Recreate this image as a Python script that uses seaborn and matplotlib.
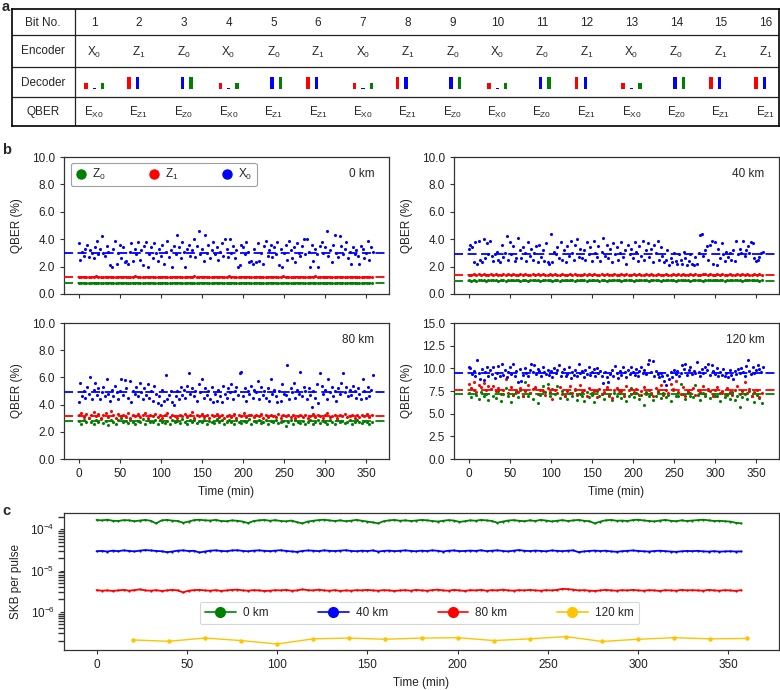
import numpy as np
import pandas as pd
import matplotlib
matplotlib.use("Agg")
import matplotlib.pyplot as plt
import seaborn as sns
from matplotlib.lines import Line2D

# ------------------------------------------------------------------ data
BITS = list(range(1, 17))
ENCODER = ["X0", "Z1", "Z0", "X0", "Z0", "Z1", "X0", "Z1",
           "Z0", "X0", "Z0", "Z1", "X0", "Z0", "Z1", "Z1"]
QBER_LABEL = ["X0", "Z1", "Z0", "X0", "Z1", "Z1", "X0", "Z1",
              "Z0", "X0", "Z0", "Z1", "X0", "Z0", "Z1", "Z1"]
# decoder detector clicks (relative heights): red / blue / green detectors
DEC_RED = [0.5, 1, 0.05, 0.5, 0.05, 1, 0.5, 1, 0.05, 0.5, 0.05, 1, 0.5, 0.05, 1, 1]
DEC_BLUE = [0.1, 1, 1, 0.1, 1, 1, 0.1, 1, 1, 0.1, 1, 1, 0.1, 1, 1, 1]
DEC_GREEN = [0.5, 0.05, 1, 0.5, 1, 0.05, 0.5, 0.05, 1, 0.5, 1, 0.05, 0.5, 1, 0.05, 0.05]

DISTANCES = ["0 km", "40 km", "80 km", "120 km"]

# QBER (%) for X0, sampled every 2 min from 0 to 358 min
X0_0KM = [3.7, 2.5, 3.1, 2.8, 3.3, 3.6, 2.7, 3.2, 3.0, 2.6,
          3.4, 3.9, 2.9, 3.3, 4.2, 3.0, 2.8, 3.5, 3.1, 2.1,
          2.0, 3.3, 3.9, 2.2, 3.0, 3.6, 2.6, 3.4, 2.3, 2.4,
          2.2, 3.1, 3.7, 2.4, 3.3, 2.9, 3.8, 2.5, 3.2, 2.1,
          3.5, 3.8, 2.0, 2.9, 3.4, 2.6, 3.7, 3.0, 2.4, 3.3,
          2.8, 3.6, 2.2, 3.1, 3.9, 2.7, 3.2, 2.0, 3.5, 2.9,
          4.3, 3.4, 2.6, 3.8, 3.1, 2.0, 3.3, 3.6, 2.8, 3.2,
          4.0, 2.7, 3.5, 4.6, 2.9, 3.3, 2.4, 4.3, 3.0, 3.6,
          2.6, 3.2, 3.8, 2.9, 3.4, 2.5, 3.1, 3.7, 2.8, 4.0,
          3.3, 2.7, 4.0, 3.0, 3.5, 2.6, 3.2, 2.0, 2.1, 3.6,
          3.4, 2.9, 3.8, 3.1, 2.3, 2.4, 2.2, 3.3, 2.3, 3.7,
          2.4, 3.0, 2.2, 3.5, 3.9, 2.8, 3.2, 3.6, 2.7, 3.4,
          2.9, 3.8, 2.1, 3.3, 2.0, 3.0, 3.6, 2.5, 3.9, 3.2,
          2.6, 3.4, 2.3, 3.7, 3.0, 2.8, 3.5, 4.0, 2.9, 4.0,
          3.1, 2.0, 3.6, 2.4, 3.3, 2.9, 1.95, 3.5, 3.8, 3.0,
          3.4, 4.6, 2.8, 3.2, 2.3, 3.6, 4.3, 3.0, 2.7, 4.2,
          3.5, 2.9, 3.3, 3.8, 2.6, 3.1, 2.2, 3.4, 2.9, 3.2,
          2.8, 2.2, 3.5, 3.3, 2.6, 3.0, 3.9, 2.5, 3.4, 3.1]
X0_40KM = [3.3, 3.6, 3.4, 2.3, 3.8, 2.2, 3.9, 2.5, 2.3, 4.0,
           2.6, 3.7, 2.9, 3.9, 2.8, 2.4, 2.9, 3.1, 2.5, 2.3,
           3.6, 2.7, 3.0, 4.2, 2.5, 3.8, 2.9, 3.5, 2.4, 2.6,
           4.1, 3.2, 2.6, 3.4, 3.0, 2.4, 3.8, 2.8, 3.3, 2.5,
           3.0, 3.5, 2.3, 3.6, 2.7, 3.2, 2.4, 3.7, 2.3, 2.2,
           4.4, 2.3, 3.1, 2.9, 3.4, 2.6, 3.8, 2.5, 3.2, 2.3,
           3.5, 2.8, 3.9, 3.0, 2.5, 3.6, 4.0, 2.7, 3.3, 2.6,
           3.2, 2.5, 3.8, 2.9, 3.4, 2.4, 3.9, 3.0, 2.7, 3.5,
           2.4, 3.1, 4.1, 2.8, 3.6, 2.6, 3.3, 2.3, 3.7, 2.9,
           3.4, 2.5, 3.0, 3.8, 2.7, 3.2, 2.2, 3.6, 2.9, 3.3,
           2.6, 3.8, 3.1, 2.4, 3.5, 2.8, 3.9, 2.5, 3.2, 3.7,
           2.7, 3.3, 2.3, 3.6, 3.0, 3.9, 2.5, 3.4, 2.8, 2.3,
           2.5, 3.2, 2.1, 2.6, 2.3, 3.0, 2.4, 2.2, 2.9, 2.5,
           2.2, 3.1, 2.6, 2.1, 2.4, 2.9, 2.2, 2.1, 2.7, 2.2,
           3.0, 4.3, 4.4, 2.8, 3.2, 3.5, 2.5, 3.6, 3.9, 2.2,
           3.8, 2.1, 3.3, 2.6, 3.7, 2.9, 2.4, 3.1, 2.7, 3.0,
           2.5, 3.2, 2.4, 3.9, 2.9, 3.3, 3.0, 3.9, 2.8, 3.2,
           3.5, 3.0, 3.8, 3.7, 2.6, 2.4, 2.5, 2.7, 3.0, 3.1]
X0_80KM = [4.2, 5.6, 4.6, 5.0, 4.5, 5.3, 4.8, 6.0, 4.4, 5.1,
           5.6, 4.7, 5.2, 4.4, 4.9, 5.3, 4.6, 5.9, 4.8, 4.3,
           5.1, 4.6, 5.4, 4.9, 4.4, 5.0, 5.9, 4.7, 5.8, 5.2,
           4.5, 5.7, 4.2, 5.0, 4.8, 5.3, 4.6, 5.6, 4.9, 4.4,
           5.2, 4.7, 5.5, 4.5, 5.0, 4.3, 5.4, 4.8, 4.1, 4.6,
           4.0, 5.1, 4.3, 6.2, 4.4, 4.7, 5.0, 4.2, 3.95, 4.6,
           5.0, 4.4, 5.3, 4.7, 5.1, 4.5, 5.4, 6.3, 4.8, 5.2,
           4.6, 5.0, 4.3, 5.5, 4.9, 5.9, 4.5, 5.2, 4.7, 5.0,
           4.4, 5.3, 4.2, 4.8, 4.3, 5.1, 4.6, 4.2, 5.4, 4.8,
           4.5, 5.2, 4.9, 5.5, 4.4, 5.0, 5.3, 4.7, 6.3, 6.4,
           4.6, 5.2, 4.3, 5.0, 4.8, 5.4, 4.5, 5.1, 4.9, 5.7,
           4.4, 5.3, 4.7, 5.0, 4.5, 5.2, 4.3, 5.9, 4.8, 5.1,
           4.6, 4.2, 5.0, 4.3, 5.5, 4.8, 4.7, 6.9, 4.4, 5.2,
           4.9, 5.6, 4.5, 5.1, 4.8, 6.4, 4.6, 5.3, 5.0, 4.4,
           5.2, 4.7, 3.8, 5.0, 4.5, 5.5, 4.1, 6.3, 5.4, 4.8,
           5.1, 4.4, 5.9, 4.9, 5.3, 4.6, 5.0, 4.3, 5.2, 4.8,
           5.6, 6.3, 4.9, 5.3, 4.6, 5.1, 4.7, 5.4, 5.0, 4.5,
           5.2, 4.8, 4.4, 5.9, 5.0, 4.5, 5.3, 4.6, 5.1, 6.2]
X0_120KM = [10.1, 10.0, 9.4, 9.7, 9.2, 10.9, 9.5, 8.8, 9.9, 8.7,
            9.6, 10.2, 9.1, 9.8, 9.4, 10.1, 8.9, 9.5, 10.3, 9.2,
            10.5, 9.3, 9.8, 9.0, 9.6, 10.2, 9.4, 10.5, 9.1, 9.7,
            8.5, 9.9, 8.6, 9.3, 10.0, 9.5, 9.2, 9.8, 10.5, 9.6,
            10.4, 9.4, 9.9, 9.7, 9.2, 10.1, 9.6, 9.4, 9.8, 9.3,
            9.7, 9.0, 10.0, 9.5, 9.8, 10.4, 9.2, 9.6, 9.9, 9.1,
            9.4, 10.1, 8.9, 9.6, 9.3, 9.8, 9.1, 10.5, 9.5, 9.7,
            9.0, 9.8, 9.4, 10.2, 9.3, 9.6, 9.9, 9.2, 10.0, 9.5,
            9.7, 9.1, 8.4, 9.6, 9.0, 8.5, 9.4, 9.8, 9.2, 10.3,
            9.5, 8.9, 9.7, 9.3, 10.1, 9.6, 9.0, 9.8, 9.4, 10.2,
            9.6, 9.3, 9.9, 9.1, 9.7, 10.2, 9.5, 9.8, 9.4, 10.5,
            10.9, 9.6, 10.8, 9.2, 9.7, 9.4, 9.0, 9.5, 9.2, 8.6,
            8.2, 9.3, 8.8, 9.6, 9.0, 9.8, 9.4, 9.7, 9.2, 9.5,
            10.4, 9.9, 10.5, 9.3, 9.8, 10.1, 9.4, 9.7, 9.5, 10.7,
            9.6, 9.2, 9.9, 9.5, 10.2, 9.8, 10.5, 9.3, 10.4, 9.7,
            9.4, 10.0, 9.1, 9.6, 9.3, 9.9, 9.2, 9.5, 9.0, 9.8,
            9.3, 8.8, 9.7, 9.4, 9.9, 9.5, 10.0, 9.6, 9.2, 10.3,
            10.9, 9.7, 9.4, 10.2, 9.5, 9.8, 10.4, 9.9, 9.6, 10.1]

# QBER (%) for Z0 / Z1, sampled every 3 min from 0 to 357 min
Z0_0KM = [0.81, 0.79, 0.80, 0.82, 0.78, 0.80, 0.81, 0.79, 0.83, 0.80,
          0.78, 0.81, 0.80, 0.79, 0.82, 0.80, 0.81, 0.78, 0.80, 0.79,
          0.81, 0.80, 0.82, 0.79, 0.80, 0.78, 0.81, 0.80, 0.79, 0.82,
          0.80, 0.81, 0.79, 0.80, 0.83, 0.80, 0.78, 0.81, 0.80, 0.79,
          0.82, 0.80, 0.79, 0.81, 0.80, 0.78, 0.80, 0.82, 0.79, 0.81,
          0.80, 0.79, 0.81, 0.80, 0.82, 0.78, 0.80, 0.81, 0.79, 0.80,
          0.81, 0.82, 0.80, 0.79, 0.81, 0.80, 0.78, 0.80, 0.82, 0.79,
          0.80, 0.81, 0.79, 0.80, 0.82, 0.80, 0.81, 0.79, 0.78, 0.80,
          0.81, 0.80, 0.82, 0.79, 0.80, 0.81, 0.83, 0.80, 0.79, 0.81,
          0.80, 0.78, 0.81, 0.80, 0.79, 0.82, 0.80, 0.81, 0.79, 0.80,
          0.82, 0.80, 0.79, 0.81, 0.80, 0.78, 0.81, 0.80, 0.82, 0.79,
          0.80, 0.81, 0.79, 0.80, 0.82, 0.80, 0.81, 0.79, 0.80, 0.81]
Z1_0KM = [1.26, 1.24, 1.27, 1.25, 1.23, 1.26, 1.25, 1.28, 1.24, 1.25,
          1.27, 1.25, 1.24, 1.26, 1.23, 1.25, 1.27, 1.24, 1.26, 1.25,
          1.24, 1.26, 1.25, 1.28, 1.25, 1.23, 1.26, 1.25, 1.27, 1.24,
          1.25, 1.27, 1.24, 1.26, 1.25, 1.23, 1.25, 1.27, 1.26, 1.24,
          1.26, 1.25, 1.23, 1.27, 1.25, 1.24, 1.26, 1.28, 1.25, 1.24,
          1.27, 1.25, 1.26, 1.24, 1.25, 1.27, 1.23, 1.26, 1.25, 1.24,
          1.26, 1.28, 1.25, 1.24, 1.26, 1.25, 1.27, 1.24, 1.25, 1.26,
          1.24, 1.25, 1.27, 1.26, 1.23, 1.25, 1.26, 1.24, 1.27, 1.25,
          1.26, 1.24, 1.25, 1.28, 1.25, 1.26, 1.24, 1.27, 1.25, 1.23,
          1.25, 1.27, 1.26, 1.24, 1.25, 1.26, 1.28, 1.25, 1.24, 1.26,
          1.27, 1.25, 1.24, 1.26, 1.25, 1.23, 1.26, 1.27, 1.25, 1.24,
          1.26, 1.25, 1.27, 1.24, 1.26, 1.25, 1.24, 1.27, 1.25, 1.26]
Z0_40KM = [1.00, 0.98, 1.02, 0.97, 1.01, 0.99, 1.03, 0.98, 1.00, 1.02,
           0.99, 1.01, 0.97, 1.00, 1.03, 0.98, 1.01, 1.00, 0.99, 1.04,
           1.02, 0.98, 1.00, 1.01, 0.97, 1.00, 1.02, 0.99, 1.01, 0.98,
           1.00, 1.03, 0.99, 1.01, 0.98, 1.00, 1.02, 0.97, 1.00, 1.01,
           0.99, 1.02, 1.00, 0.98, 1.01, 1.03, 0.99, 1.00, 0.98, 1.02,
           1.00, 0.99, 1.01, 0.97, 1.00, 1.02, 0.98, 1.01, 1.00, 0.99,
           1.02, 1.00, 0.98, 1.01, 0.99, 1.03, 1.00, 0.98, 1.01, 1.00,
           0.99, 1.01, 1.00, 0.97, 1.02, 0.99, 1.00, 1.01, 0.98, 1.00,
           1.01, 0.99, 1.02, 1.00, 0.98, 1.01, 1.00, 0.99, 1.03, 1.00,
           0.98, 1.01, 0.99, 1.02, 1.00, 0.98, 1.01, 1.04, 1.00, 0.99,
           1.02, 1.00, 0.99, 1.01, 0.98, 1.03, 1.00, 1.01, 0.99, 1.02,
           1.00, 0.98, 1.01, 1.03, 1.00, 0.99, 1.02, 1.00, 0.98, 1.01]
Z1_40KM = [1.42, 1.40, 1.44, 1.39, 1.43, 1.41, 1.45, 1.40, 1.42, 1.44,
           1.41, 1.43, 1.39, 1.42, 1.46, 1.40, 1.43, 1.41, 1.44, 1.40,
           1.42, 1.45, 1.41, 1.43, 1.39, 1.42, 1.44, 1.40, 1.43, 1.41,
           1.44, 1.42, 1.40, 1.43, 1.41, 1.45, 1.42, 1.39, 1.43, 1.41,
           1.40, 1.43, 1.42, 1.44, 1.41, 1.39, 1.42, 1.45, 1.40, 1.43,
           1.41, 1.44, 1.42, 1.40, 1.43, 1.41, 1.46, 1.42, 1.40, 1.43,
           1.42, 1.40, 1.44, 1.41, 1.43, 1.39, 1.42, 1.44, 1.41, 1.43,
           1.40, 1.42, 1.45, 1.41, 1.43, 1.40, 1.42, 1.44, 1.41, 1.42,
           1.43, 1.41, 1.40, 1.44, 1.42, 1.45, 1.41, 1.43, 1.40, 1.42,
           1.44, 1.41, 1.43, 1.40, 1.42, 1.46, 1.43, 1.41, 1.44, 1.42,
           1.40, 1.43, 1.41, 1.44, 1.42, 1.40, 1.45, 1.42, 1.41, 1.43,
           1.42, 1.44, 1.40, 1.43, 1.41, 1.42, 1.45, 1.41, 1.43, 1.42]
Z0_80KM = [2.8, 2.6, 2.9, 2.7, 3.0, 2.75, 2.55, 2.85, 2.7, 2.95,
           2.65, 2.8, 2.5, 2.9, 2.75, 2.6, 2.85, 3.0, 2.7, 2.8,
           2.65, 2.9, 2.75, 2.55, 2.8, 2.7, 2.95, 2.6, 2.85, 2.75,
           2.7, 2.85, 2.6, 2.9, 2.75, 2.65, 2.8, 2.55, 2.9, 2.7,
           2.8, 2.65, 2.95, 2.7, 2.6, 2.85, 2.75, 2.9, 2.65, 2.8,
           2.7, 2.9, 2.55, 2.8, 2.75, 2.65, 2.95, 2.7, 2.85, 2.6,
           2.75, 2.85, 2.7, 2.6, 2.9, 2.75, 2.65, 2.8, 2.7, 2.95,
           2.6, 2.8, 2.75, 2.9, 2.65, 2.7, 2.85, 2.55, 2.8, 2.7,
           2.9, 2.65, 2.75, 2.8, 2.4, 2.7, 2.85, 2.6, 2.9, 2.75,
           2.65, 2.8, 2.55, 2.7, 2.9, 2.6, 2.75, 2.85, 2.65, 2.8,
           2.7, 2.55, 2.85, 2.75, 2.6, 2.9, 2.7, 2.8, 2.65, 2.75,
           2.85, 2.6, 2.75, 2.9, 2.7, 2.65, 2.8, 2.7, 2.6, 2.75]
Z1_80KM = [3.2, 3.4, 3.1, 3.3, 3.0, 3.25, 3.45, 3.15, 3.3, 3.05,
           3.2, 3.35, 3.1, 3.5, 3.2, 3.05, 3.3, 3.15, 3.25, 3.1,
           3.35, 3.0, 3.2, 3.15, 3.3, 3.1, 3.25, 3.4, 3.05, 3.2,
           3.15, 3.3, 3.1, 3.25, 3.0, 3.2, 3.35, 3.1, 3.2, 3.15,
           3.05, 3.25, 3.15, 3.3, 3.1, 3.2, 3.45, 3.05, 3.2, 3.15,
           3.3, 3.1, 3.2, 3.05, 3.25, 3.15, 3.3, 3.1, 3.2, 3.0,
           3.15, 3.25, 3.1, 3.3, 3.05, 3.2, 3.15, 3.35, 3.1, 3.2,
           3.25, 3.1, 3.2, 3.15, 3.3, 3.05, 3.2, 3.1, 3.25, 3.15,
           3.1, 3.3, 3.05, 3.2, 3.15, 3.25, 3.1, 3.2, 3.0, 3.15,
           3.2, 3.1, 3.25, 3.05, 3.15, 3.3, 3.1, 3.2, 3.15, 3.05,
           3.2, 3.35, 3.1, 3.15, 3.25, 3.05, 3.2, 3.15, 3.3, 3.1,
           3.15, 3.2, 3.05, 3.25, 3.1, 3.2, 3.15, 3.3, 3.1, 3.2]
Z0_120KM = [7.3, 6.8, 7.6, 7.1, 6.6, 7.4, 6.9, 7.2, 6.5, 7.7,
            7.0, 6.7, 7.5, 6.4, 7.2, 7.8, 6.9, 6.3, 7.1, 7.4,
            6.8, 7.6, 7.0, 8.5, 6.9, 7.3, 6.6, 7.8, 6.2, 7.1,
            8.0, 7.4, 8.3, 6.9, 7.7, 7.2, 8.1, 6.7, 7.5, 7.0,
            6.6, 7.3, 6.9, 7.6, 6.5, 7.2, 7.0, 6.4, 7.4, 6.8,
            7.1, 6.3, 7.5, 6.9, 7.2, 6.6, 7.7, 7.0, 6.5, 7.3,
            6.9, 7.6, 6.7, 7.2, 6.4, 7.0, 7.8, 6.8, 7.3, 6.6,
            7.1, 6.0, 7.4, 6.9, 7.2, 6.5, 7.0, 7.5, 6.7, 7.3,
            6.8, 7.1, 6.4, 7.6, 7.0, 6.9, 8.3, 7.2, 6.6, 7.4,
            7.0, 6.8, 8.2, 7.1, 6.5, 7.3, 6.9, 7.6, 6.7, 7.2,
            6.9, 7.0, 6.4, 7.3, 6.8, 7.1, 6.6, 7.4, 6.5, 7.0,
            5.7, 6.8, 7.2, 6.6, 7.5, 6.9, 6.3, 7.1, 6.7, 6.2]
Z1_120KM = [8.3, 7.8, 8.5, 7.4, 8.2, 7.9, 8.4, 7.6, 8.0, 7.7,
            8.1, 7.5, 7.8, 7.2, 7.6, 8.8, 7.3, 7.9, 7.1, 7.6,
            7.4, 7.8, 7.0, 7.5, 8.2, 7.3, 7.7, 7.9, 7.2, 7.6,
            7.5, 7.1, 7.8, 7.4, 6.6, 7.6, 7.3, 7.9, 7.2, 6.9,
            7.5, 8.0, 7.3, 7.7, 7.1, 8.2, 7.4, 7.6, 7.0, 7.8,
            7.3, 7.5, 6.8, 7.7, 7.2, 7.4, 7.9, 7.1, 6.7, 7.6,
            7.8, 7.3, 7.5, 7.0, 8.0, 7.6, 7.2, 7.4, 7.7, 7.1,
            7.5, 7.9, 7.2, 7.6, 7.3, 7.0, 7.8, 7.4, 8.2, 7.1,
            7.6, 7.3, 8.3, 7.7, 8.6, 7.4, 7.2, 7.9, 7.0, 7.5,
            7.3, 7.8, 7.1, 7.6, 7.4, 8.0, 7.2, 7.7, 7.5, 7.0,
            7.6, 7.9, 7.3, 7.5, 7.2, 7.8, 7.4, 7.1, 7.6, 8.0,
            7.2, 7.5, 8.5, 7.3, 7.7, 7.0, 7.4, 7.6, 6.8, 7.3]

# average QBER (%) per distance (dashed lines)
MEAN_Z0 = [0.83, 0.98, 2.79, 7.13]
MEAN_Z1 = [1.27, 1.41, 3.16, 7.57]
MEAN_X0 = [3.02, 2.95, 4.93, 9.52]

# secret key bits per pulse, sampled every 3 min from 0 to 357 min
SKB_0KM_E4 = [1.70, 1.65, 1.72, 1.62, 1.60, 1.68, 1.66, 1.58, 1.64, 1.70,
              1.62, 1.40, 1.65, 1.70, 1.63, 1.60, 1.45, 1.55, 1.68, 1.72,
              1.66, 1.64, 1.70, 1.60, 1.58, 1.65, 1.62, 1.55, 1.42, 1.60,
              1.66, 1.70, 1.62, 1.68, 1.60, 1.57, 1.64, 1.50, 1.40, 1.55,
              1.62, 1.68, 1.72, 1.65, 1.60, 1.66, 1.58, 1.63, 1.70, 1.62,
              1.55, 1.48, 1.40, 1.58, 1.65, 1.70, 1.62, 1.66, 1.60, 1.64,
              1.70, 1.66, 1.60, 1.55, 1.62, 1.68, 1.64, 1.52, 1.58, 1.66,
              1.62, 1.70, 1.65, 1.60, 1.45, 1.55, 1.64, 1.68, 1.62, 1.58,
              1.66, 1.60, 1.70, 1.64, 1.56, 1.62, 1.68, 1.60, 1.65, 1.70,
              1.62, 1.58, 1.40, 1.55, 1.66, 1.70, 1.62, 1.64, 1.60, 1.68,
              1.72, 1.65, 1.60, 1.56, 1.64, 1.70, 1.62, 1.58, 1.66, 1.60,
              1.64, 1.68, 1.72, 1.66, 1.60, 1.62, 1.58, 1.55, 1.45, 1.40]
SKB_40KM_E5 = [2.95, 3.00, 2.90, 3.05, 2.95, 3.10, 3.00, 2.92, 3.05, 3.15,
               3.08, 3.00, 2.95, 2.80, 2.90, 3.05, 3.10, 2.98, 3.02, 2.75,
               2.90, 3.05, 3.10, 3.00, 2.95, 3.08, 3.12, 3.00, 2.94, 3.05,
               3.10, 3.02, 2.96, 3.05, 3.12, 3.00, 2.92, 2.85, 3.00, 3.08,
               3.04, 2.96, 3.10, 3.02, 2.98, 3.05, 3.12, 3.00, 2.95, 3.04,
               2.98, 3.08, 2.90, 3.00, 3.06, 2.96, 3.02, 3.10, 3.00, 2.94,
               3.05, 2.98, 3.10, 3.02, 2.90, 3.04, 3.08, 2.96, 3.00, 3.06,
               3.00, 3.12, 2.96, 3.04, 3.10, 3.00, 2.92, 3.05, 3.15, 3.02,
               2.98, 3.06, 3.00, 2.94, 3.08, 3.02, 2.96, 3.04, 3.10, 2.80,
               2.92, 3.00, 3.06, 2.98, 3.04, 2.92, 2.86, 2.95, 3.02, 3.08,
               3.00, 2.94, 2.90, 2.98, 3.04, 2.96, 2.90, 2.85, 2.94, 3.00,
               2.96, 3.02, 2.92, 2.90, 2.96, 2.88, 2.92, 2.95, 2.90, 2.92]
SKB_80KM_E6 = [3.35, 3.25, 3.30, 3.20, 3.30, 3.40, 3.25, 3.35, 3.50, 3.30,
               3.25, 3.35, 3.20, 3.30, 3.40, 3.30, 2.95, 3.25, 3.35, 3.40,
               3.30, 3.25, 3.35, 3.20, 3.30, 3.40, 3.45, 3.30, 3.25, 3.35,
               3.30, 3.20, 3.25, 3.35, 3.30, 3.40, 3.25, 3.30, 3.50, 3.35,
               3.30, 3.45, 3.30, 3.25, 3.35, 3.20, 3.30, 3.25, 3.35, 3.30,
               3.40, 3.30, 3.25, 3.35, 3.30, 3.20, 3.30, 3.35, 3.25, 3.40,
               3.30, 3.25, 3.35, 3.45, 3.30, 3.25, 3.40, 3.30, 3.20, 3.35,
               3.30, 3.40, 3.25, 3.35, 3.30, 3.45, 3.30, 3.25, 3.35, 3.30,
               3.40, 3.30, 3.25, 3.35, 3.30, 3.40, 3.60, 3.55, 3.45, 3.30,
               3.35, 3.25, 3.20, 3.30, 3.40, 3.30, 3.25, 3.35, 3.30, 3.40,
               3.30, 3.25, 3.35, 3.30, 3.20, 3.35, 3.30, 3.25, 3.40, 3.30,
               3.35, 3.30, 3.25, 3.40, 3.30, 3.25, 3.35, 3.30, 3.20, 3.35]
SKB_120KM_TIME = [20, 40, 60, 80, 100, 120, 140, 160, 180, 200,
                  220, 240, 260, 280, 300, 320, 340, 360]
SKB_120KM_E7 = [2.07, 1.92, 2.30, 2.00, 1.65, 2.20, 2.30, 2.15, 2.30, 2.35,
                2.00, 2.20, 2.50, 1.90, 2.15, 2.35, 2.20, 2.25]

TIME_X0 = np.arange(0, 360, 2)
TIME_Z = np.arange(0, 360, 3)
TIME_SKB = np.arange(0, 360, 3)
X_TICKS = [0, 50, 100, 150, 200, 250, 300, 350]

# ------------------------------------------------------------------ style
sns.set_theme(style="ticks")
plt.rcParams.update({
    "font.family": ["Liberation Sans", "DejaVu Sans"],
    "font.size": 8.5,
    "mathtext.fontset": "custom",
    "mathtext.rm": "Liberation Sans",
    "mathtext.it": "Liberation Sans:italic",
    "mathtext.bf": "Liberation Sans:bold",
    "axes.edgecolor": "#333333",
    "axes.linewidth": 0.9,
    "xtick.color": "#333333",
    "ytick.color": "#333333",
    "xtick.labelcolor": "#222222",
    "ytick.labelcolor": "#222222",
    "xtick.major.size": 3.2,
    "ytick.major.size": 3.2,
    "xtick.major.width": 0.8,
    "ytick.major.width": 0.8,
    "xtick.labelsize": 8.5,
    "ytick.labelsize": 8.5,
    "axes.labelsize": 8.5,
    "axes.labelcolor": "#222222",
    "legend.fontsize": 8.5,
})
RED, BLUE, GREEN, YELLOW = "#ff0000", "#0000ff", "#008000", "#ffc400"

W, H = 780, 690
fig = plt.figure(figsize=(W / 100, H / 100), dpi=100)


def px_axes(left, top, right, bottom):
    return fig.add_axes([left / W, 1 - bottom / H, (right - left) / W, (bottom - top) / H])


def sub(label):
    return f"{label[0]}$_{label[1]}$"


# ------------------------------------------------------------------ panel a (table)
ax_a = px_axes(12, 9, 779, 126)
ax_a.set_xlim(12, 779)
ax_a.set_ylim(126, 9)
ax_a.set_xticks([])
ax_a.set_yticks([])
for sp in ax_a.spines.values():
    sp.set_color("black")
    sp.set_linewidth(1.2)
for yl in (35, 67, 97):
    ax_a.axhline(yl, color="#222222", lw=0.9)
ax_a.axvline(75, color="#222222", lw=0.9)

row_y = [22.5, 51.5, 82.5, 111.5]
for name, yy in zip(["Bit No.", "Encoder", "Decoder", "QBER"], row_y):
    ax_a.text(43, yy, name, ha="center", va="center", fontsize=8.5)

col_x = [94.3 + 44.77 * i for i in range(len(BITS))]
bar_bottom, bar_full, bar_w = 89.3, 12.0, 3.4
for i, cx in enumerate(col_x):
    ax_a.text(cx, row_y[0], str(BITS[i]), ha="center", va="center", fontsize=8.5)
    ax_a.text(cx, row_y[1] + 1, sub(ENCODER[i]), ha="center", va="center", fontsize=8.5)
    ax_a.text(cx, row_y[3] + 1, "E$_{\\mathrm{" + QBER_LABEL[i] + "}}$",
              ha="center", va="center", fontsize=8.5)
    offs = (-8.4, 0.0, 8.4) if ENCODER[i][0] == "X" else (-10.0, -1.5, 7.0)
    for off, val, col in zip(offs, (DEC_RED[i], DEC_BLUE[i], DEC_GREEN[i]), (RED, BLUE, GREEN)):
        ax_a.bar(cx + off, -val * bar_full, bottom=bar_bottom, width=bar_w,
                 color=col, linewidth=0)

# ------------------------------------------------------------------ panel b
boxes = [(64, 157, 389, 294), (454, 157, 779, 294),
         (64, 323, 389, 459), (454, 323, 779, 459)]
X0_ALL = [X0_0KM, X0_40KM, X0_80KM, X0_120KM]
Z0_ALL = [Z0_0KM, Z0_40KM, Z0_80KM, Z0_120KM]
Z1_ALL = [Z1_0KM, Z1_40KM, Z1_80KM, Z1_120KM]
YMAX = [10, 10, 10, 15]
YSTEP = [2, 2, 2, 2.5]

for k, box in enumerate(boxes):
    ax = px_axes(*box)
    df_z0 = pd.DataFrame({"t": TIME_Z, "q": Z0_ALL[k]})
    df_z1 = pd.DataFrame({"t": TIME_Z, "q": Z1_ALL[k]})
    df_x0 = pd.DataFrame({"t": TIME_X0, "q": X0_ALL[k]})
    sns.scatterplot(data=df_z0, x="t", y="q", color=GREEN, s=5, linewidth=0, ax=ax, legend=False)
    sns.scatterplot(data=df_z1, x="t", y="q", color=RED, s=5, linewidth=0, ax=ax, legend=False)
    sns.scatterplot(data=df_x0, x="t", y="q", color=BLUE, s=5, linewidth=0, ax=ax, legend=False)
    for m, col in zip((MEAN_Z0[k], MEAN_Z1[k], MEAN_X0[k]), (GREEN, RED, BLUE)):
        ax.axhline(m, color=col, lw=1.3, ls=(0, (5, 2.5)), zorder=3)
    ax.set_xlim(-18, 378)
    ax.set_ylim(0, YMAX[k])
    ax.set_xticks(X_TICKS)
    ax.set_yticks(np.arange(0, YMAX[k] + 0.01, YSTEP[k]))
    ax.yaxis.set_major_formatter(matplotlib.ticker.FormatStrFormatter("%.1f"))
    ax.set_ylabel("QBER (%)", labelpad=6)
    if k >= 2:
        ax.set_xlabel("Time (min)", labelpad=4)
    else:
        ax.set_xlabel("")
        ax.set_xticklabels([])
    ax.text(0.955, 0.875, DISTANCES[k], transform=ax.transAxes, ha="right", va="center",
            fontsize=8.5)
    if k == 0:
        handles = [Line2D([], [], ls="none", marker="o", ms=6.5, color=c, mec=c)
                   for c in (GREEN, RED, BLUE)]
        leg = ax.legend(handles, ["Z$_0$", "Z$_1$", "X$_0$"], ncol=3, loc="upper left",
                        bbox_to_anchor=(0.02, 0.958), borderaxespad=0, frameon=True,
                        handlelength=1.0, handletextpad=0.45, columnspacing=3.6,
                        borderpad=0.35, fancybox=True)
        leg.get_frame().set_edgecolor("#888888")
        leg.get_frame().set_linewidth(0.8)

# ------------------------------------------------------------------ panel c
ax_c = px_axes(64, 513, 779, 650)
for vals, scale, col in ((SKB_0KM_E4, 1e-4, GREEN), (SKB_40KM_E5, 1e-5, BLUE),
                         (SKB_80KM_E6, 1e-6, RED)):
    df = pd.DataFrame({"t": TIME_SKB, "skb": np.array(vals) * scale})
    sns.lineplot(data=df, x="t", y="skb", color=col, lw=1.3, marker="o", ms=1.6,
                 mew=0, estimator=None, ax=ax_c, legend=False)
df_y = pd.DataFrame({"t": SKB_120KM_TIME, "skb": np.array(SKB_120KM_E7) * 1e-7})
sns.lineplot(data=df_y, x="t", y="skb", color=YELLOW, lw=1.0, marker="o", ms=3.2,
             mew=0, estimator=None, ax=ax_c, legend=False)
ax_c.set_yscale("log")
ax_c.set_ylim(1.18e-7, 2.5e-4)
ax_c.set_xlim(-18, 378)
ax_c.set_xticks(X_TICKS)
ax_c.set_yticks([1e-6, 1e-5, 1e-4])
ax_c.set_xlabel("Time (min)", labelpad=4)
ax_c.set_ylabel("SKB per pulse", labelpad=6)
handles = [Line2D([], [], color=c, marker="o", ms=7, lw=1.2) for c in (GREEN, BLUE, RED, YELLOW)]
leg = ax_c.legend(handles, DISTANCES, ncol=4, loc="center", bbox_to_anchor=(0.497, 0.27),
                  handlelength=2.6, handletextpad=0.6, columnspacing=4.2, borderpad=0.45,
                  frameon=True, fancybox=True)
leg.get_frame().set_edgecolor("#cccccc")
leg.get_frame().set_linewidth(0.8)

# ------------------------------------------------------------------ panel letters
for letter, (x, y) in {"a": (2, 7), "b": (2, 150), "c": (2, 511)}.items():
    fig.text(x / W, 1 - y / H, letter, fontsize=10.5, fontweight="bold", ha="left", va="center")

fig.savefig("out.png", dpi=100)
